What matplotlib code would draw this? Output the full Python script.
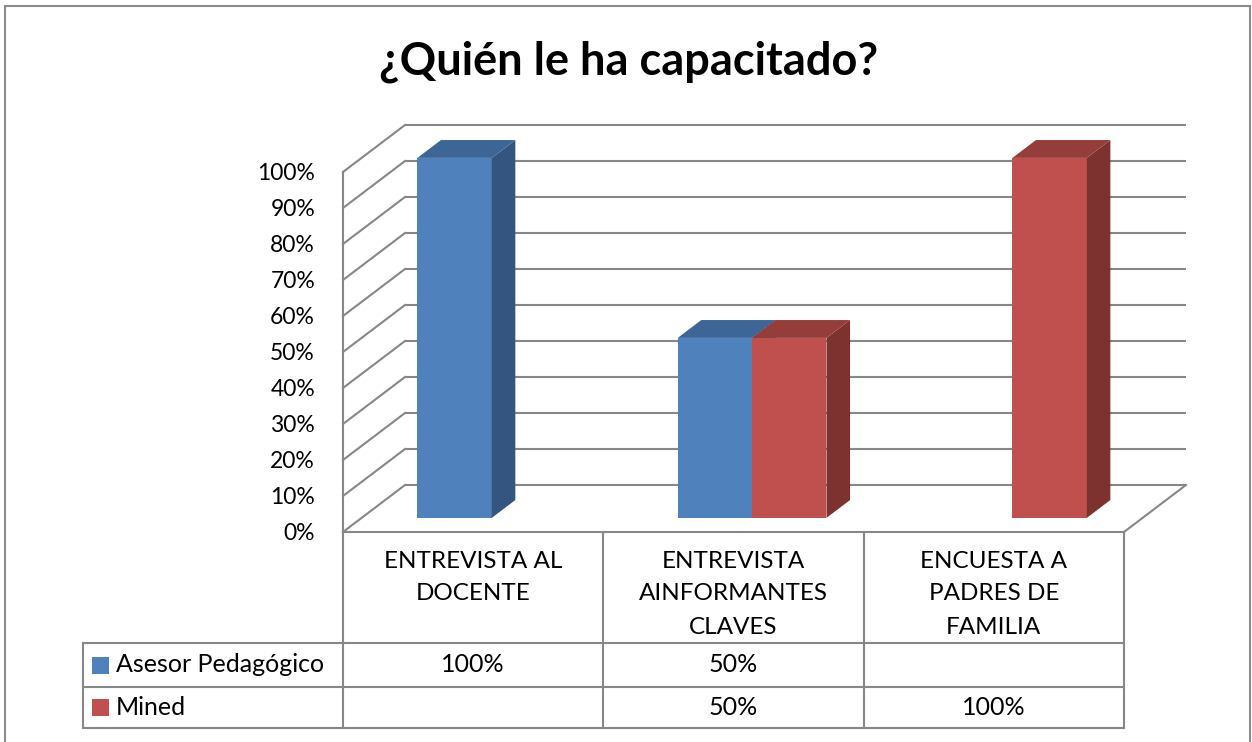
import matplotlib.pyplot as plt
from matplotlib.patches import Polygon, Rectangle

# data
categories = ["ENTREVISTA AL\nDOCENTE", "ENTREVISTA\nAINFORMANTES\nCLAVES", "ENCUESTA A\nPADRES DE\nFAMILIA"]
series_names = ["Asesor Pedagógico", "Mined"]
asesor = [100, 50, 0]
mined = [0, 50, 100]
table_text = [["100%", "50%", ""], ["", "50%", "100%"]]
yticks = list(range(0, 101, 10))

# colours: front, side, top
colors = [("#4F81BD", "#34557F", "#3D6595"),
          ("#C0504D", "#7E3230", "#943D3A")]
grid_c = "#878787"

plt.rcParams['font.family'] = ['Lato', 'DejaVu Sans']

W, H = 1252, 742
fig = plt.figure(figsize=(W / 100, H / 100), dpi=100)
ax = fig.add_axes([0, 0, 1, 1])
ax.axis('off')

# front plane: category 0..3 -> px 343..1124, value 0..100 -> px 532..172 (from top)
px_cat = 260.33
px_pct = 3.6
x0px, y0px = 343, 532
ax.set_xlim(-x0px / px_cat, (W - x0px) / px_cat)
ax.set_ylim(-(H - y0px) / px_pct, y0px / px_pct)

# depth of the box (oblique projection)
DX = 62 / px_cat
DY = 47 / px_pct
ncat = len(categories)

# outer frame
fig.patches.append(Rectangle((5 / W, -0.05), 1245 / W, 1.05 - 6 / H, transform=fig.transFigure,
                             fill=False, ec="#8c8c8c", lw=1.5))

fig.text(629 / W, 1 - 62 / H, "¿Quién le ha capacitado?", ha='center', va='center',
         fontsize=32.5, fontweight='bold', color='black')

lw = 1.5
# back wall gridlines + side wall diagonals
for t in yticks:
    ax.plot([DX, ncat + DX], [t + DY, t + DY], color=grid_c, lw=lw, solid_capstyle='butt')
    ax.plot([0, DX], [t, t + DY], color=grid_c, lw=lw)
    ax.text(-28 / px_cat, t - 1.5 / px_pct, f"{t}%", ha='right', va='center', fontsize=16.5)
ax.plot([0, 0], [0, 100], color=grid_c, lw=lw)
ax.plot([ncat, ncat + DX], [0, DY], color=grid_c, lw=lw)

# bars
d0, d1 = 0.3, 0.68
bw = 1 / 3.5
for i, vals in enumerate([asesor, mined]):
    front, side, top = colors[i]
    for j, v in enumerate(vals):
        if v <= 0:
            continue
        xa = j + 0.5 + (i - 1) * bw + d0 * DX
        xb = xa + bw
        ox, oy = (d1 - d0) * DX, (d1 - d0) * DY
        yb = d0 * DY
        yt = v + d0 * DY
        ax.add_patch(Polygon([(xa, yb), (xb, yb), (xb, yt), (xa, yt)], closed=True, fc=front, ec='none', zorder=3))
        ax.add_patch(Polygon([(xb, yb), (xb + ox, yb + oy), (xb + ox, yt + oy), (xb, yt)], closed=True, fc=side, ec='none', zorder=3))
        ax.add_patch(Polygon([(xa, yt), (xb, yt), (xb + ox, yt + oy), (xa + ox, yt + oy)], closed=True, fc=top, ec='none', zorder=3))

# data table
def py(p):
    return (y0px - p) / px_pct

y_head_top = 0
y_row1 = py(643)
y_row2 = py(687)
y_bot = py(728)
ax.plot([0, ncat], [y_head_top, y_head_top], color=grid_c, lw=lw)
for yy in [y_row1, y_row2, y_bot]:
    ax.plot([-1, ncat], [yy, yy], color=grid_c, lw=lw)
for xx in range(ncat + 1):
    ax.plot([xx, xx], [y_head_top, y_bot], color=grid_c, lw=lw)
ax.plot([-1, -1], [y_row1, y_bot], color=grid_c, lw=lw)

for j, c in enumerate(categories):
    for k, line in enumerate(c.split("\n")):
        ax.text(j + 0.5, py(561 + 33 * k), line, ha='center', va='center', fontsize=17.5)

row_mid = [(y_row1 + y_row2) / 2, (y_row2 + y_bot) / 2]
for i, name in enumerate(series_names):
    ym = row_mid[i]
    ax.add_patch(Rectangle((-1 + 9 / px_cat, ym - 8.5 / px_pct), 17 / px_cat, 17 / px_pct,
                           fc=colors[i][0], ec='none'))
    ax.text(-1 + 33 / px_cat, ym, name, ha='left', va='center', fontsize=18)
    for j in range(ncat):
        if table_text[i][j]:
            ax.text(j + 0.5, ym, table_text[i][j], ha='center', va='center', fontsize=18)

fig.savefig("out.png", dpi=100)
